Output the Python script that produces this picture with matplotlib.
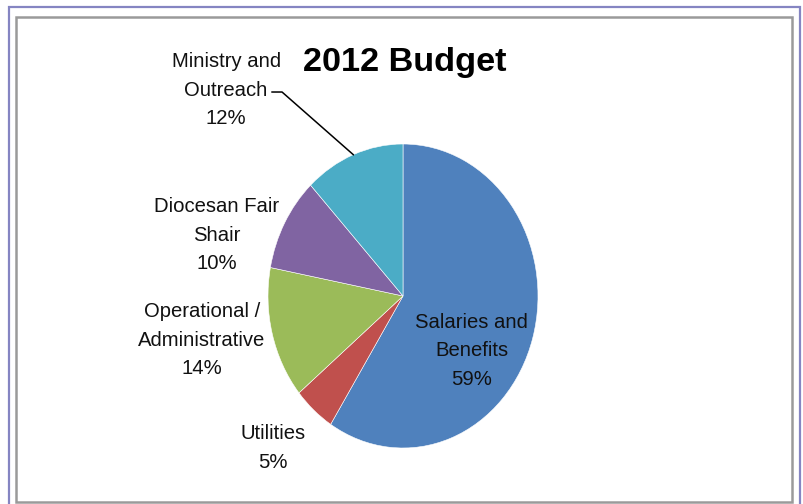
import matplotlib
matplotlib.use("Agg")
import numpy as np
import matplotlib.pyplot as plt
from matplotlib.patches import Rectangle

# ---- data ----
categories = ["Salaries and\nBenefits", "Utilities", "Operational /\nAdministrative",
              "Diocesan Fair\nShair", "Ministry and\nOutreach"]
shares = [59, 5, 14, 10, 12]
colors = ["#4F81BD", "#C0504D", "#9BBB59", "#8064A2", "#4BACC6"]
title = "2012 Budget"

# label centres (pie units, pie radius = 1)
label_pos = [(0.51, -0.36), (-0.963, -1.0), (-1.49, -0.29), (-1.38, 0.40), (-1.31, 1.355)]

W, H = 804, 504
plt.rcParams["font.family"] = ["Liberation Sans", "DejaVu Sans"]
fig = plt.figure(figsize=(W / 100, H / 100), dpi=100)

# frame lines like the pasted excel chart
fig.patches.append(Rectangle((9 / W, -0.01), 791 / W, (H - 7) / H + 0.01,
                             transform=fig.transFigure, fill=False,
                             edgecolor="#8585C2", linewidth=1.6))
fig.patches.append(Rectangle((16.5 / W, 2.5 / H), 776 / W, (H - 19) / H,
                             transform=fig.transFigure, fill=False,
                             edgecolor="#9A9A9A", linewidth=1.8))

# pie is a bit squashed horizontally: 270 x 304 px box
ax = fig.add_axes([268 / W, (H - 448) / H, 270 / W, 304 / H])
wedges, _ = ax.pie(shares, colors=colors, startangle=90, counterclock=False,
                   radius=1, wedgeprops=dict(edgecolor="white", linewidth=0.4))
ax.set_aspect("auto")
ax.set_xlim(-1, 1)
ax.set_ylim(-1, 1)
ax.axis("off")

for name, val, (x, y) in zip(categories, shares, label_pos):
    ax.text(x, y, f"{name}\n{val}%", ha="center", va="center", fontsize=14.6,
            color="#111111", linespacing=1.62, clip_on=False)

# leader line for Ministry and Outreach
w = wedges[4]
mid = np.deg2rad((w.theta1 + w.theta2) / 2)
ex, ey = np.cos(mid), np.sin(mid)
ax.plot([-0.970, -0.896, ex], [1.342, 1.342, ey], color="black", linewidth=1.1,
        clip_on=False)

fig.text(405 / W, 1 - 63 / H, title, ha="center", va="center",
         fontsize=24.7, fontweight="bold", color="black")

fig.savefig("out.png", dpi=100)
